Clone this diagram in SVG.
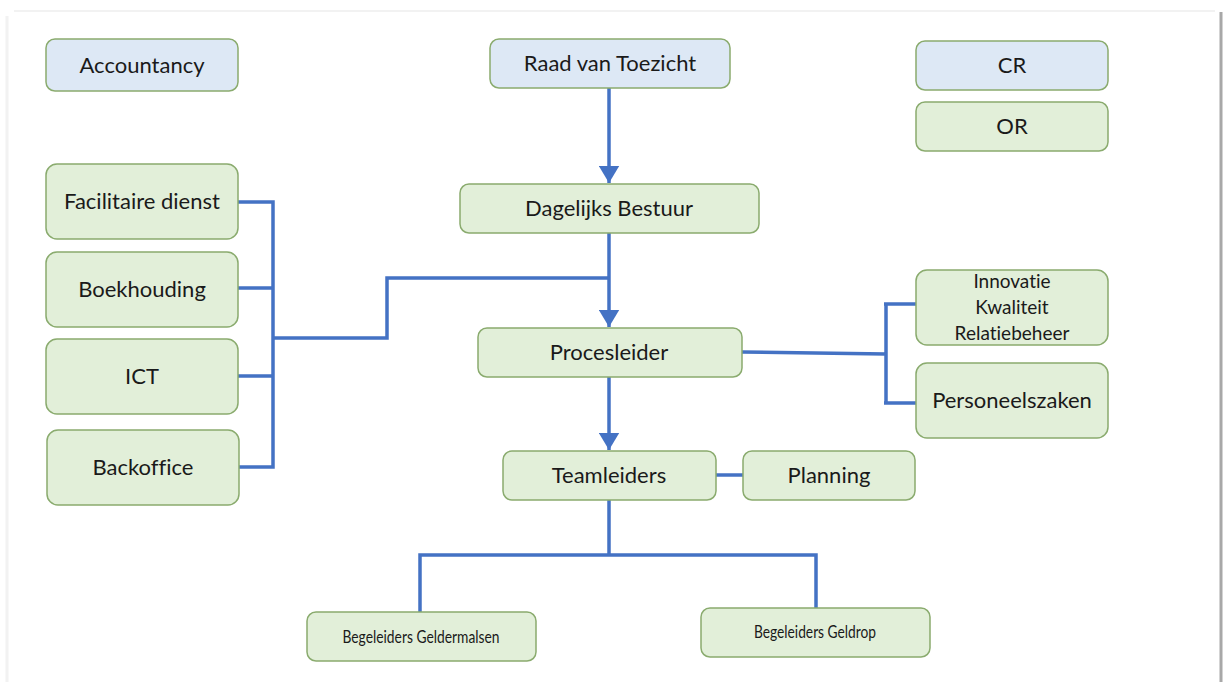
<svg xmlns="http://www.w3.org/2000/svg" width="1223" height="682" viewBox="0 0 1223 682">
<defs>
<style>
.g{fill:#e2efd9;stroke:#8aab6e;stroke-width:1.5}
.b{fill:#dde8f5;stroke:#8aab6e;stroke-width:1.5}
text{font-family:Lato,"Open Sans",sans-serif;fill:#1a1a1a;text-anchor:middle;font-variant-ligatures:none}
.t{font-size:22px}
.s{font-size:19px}
.c{fill:none;stroke:#4472c4;stroke-width:3.5}
</style>
<marker id="ah" markerWidth="6" markerHeight="6" refX="5" refY="3" orient="auto" markerUnits="strokeWidth">
<path d="M0,0 L5,3 L0,6 z" fill="#4472c4"/>
</marker>
</defs>
<rect width="1223" height="682" fill="#ffffff"/>
<line x1="14" y1="11" x2="1215" y2="11" stroke="#f2f2f2" stroke-width="2"/>
<line x1="7" y1="16" x2="7" y2="682" stroke="#f2f2f2" stroke-width="3"/>
<line x1="1221" y1="12" x2="1221" y2="682" stroke="#a8a8a8" stroke-width="3"/>
<g id="connectors">
<path class="c" d="M609,88 V183" marker-end="url(#ah)"/>
<path class="c" d="M609,233 V327" marker-end="url(#ah)"/>
<path class="c" d="M609,377 V450" marker-end="url(#ah)"/>
<path class="c" d="M238,202 H273 V467 H239 M238,288 H273 M238,376 H273 M273,338 H387 V278 H609"/>
<path class="c" d="M742,352 L886,354 M886,304 V403 M884,304 H916 M884,403 H916"/>
<path class="c" d="M716,475 H743"/>
<path class="c" d="M609,500 V555 M420,612 V555 H816 V608"/>
</g>
<g id="accountancy"><rect class="b" x="46" y="39" width="192" height="52" rx="9"/><text class="t" x="142" y="73">Accountancy</text></g>
<g id="raad"><rect class="b" x="490" y="39" width="240" height="49" rx="9"/><text class="t" x="610" y="71">Raad van Toezicht</text></g>
<g id="cr"><rect class="b" x="916" y="41" width="192" height="49" rx="9"/><text class="t" x="1012" y="73">CR</text></g>
<g id="or"><rect class="g" x="916" y="102" width="192" height="49" rx="9"/><text class="t" x="1012" y="134">OR</text></g>
<g id="facilitaire"><rect class="g" x="46" y="164" width="192" height="75" rx="11"/><text class="t" x="142" y="209">Facilitaire dienst</text></g>
<g id="boekhouding"><rect class="g" x="46" y="252" width="192" height="75" rx="11"/><text class="t" x="142" y="297">Boekhouding</text></g>
<g id="ict"><rect class="g" x="46" y="339" width="192" height="75" rx="11"/><text class="t" x="142" y="384">ICT</text></g>
<g id="backoffice"><rect class="g" x="47" y="430" width="192" height="75" rx="11"/><text class="t" x="143" y="475">Backoffice</text></g>
<g id="dagelijks"><rect class="g" x="460" y="184" width="299" height="49" rx="9"/><text class="t" x="609" y="216">Dagelijks Bestuur</text></g>
<g id="procesleider"><rect class="g" x="478" y="328" width="264" height="49" rx="9"/><text class="t" x="609" y="360">Procesleider</text></g>
<g id="innovatie"><rect class="g" x="916" y="270" width="192" height="75" rx="11"/><text class="s" x="1012" y="288">Innovatie</text><text class="s" x="1012" y="314">Kwaliteit</text><text class="s" x="1012" y="340">Relatiebeheer</text></g>
<g id="personeelszaken"><rect class="g" x="916" y="363" width="192" height="75" rx="11"/><text class="t" x="1012" y="408">Personeelszaken</text></g>
<g id="teamleiders"><rect class="g" x="503" y="451" width="213" height="49" rx="9"/><text class="t" x="609" y="483">Teamleiders</text></g>
<g id="planning"><rect class="g" x="743" y="451" width="172" height="49" rx="9"/><text class="t" x="829" y="483">Planning</text></g>
<g id="geldermalsen"><rect class="g" x="307" y="612" width="229" height="49" rx="9"/><text x="421" y="643" font-size="18" textLength="157" lengthAdjust="spacingAndGlyphs">Begeleiders Geldermalsen</text></g>
<g id="geldrop"><rect class="g" x="701" y="608" width="229" height="49" rx="9"/><text x="815" y="638" font-size="18" textLength="122" lengthAdjust="spacingAndGlyphs">Begeleiders Geldrop</text></g>
</svg>
